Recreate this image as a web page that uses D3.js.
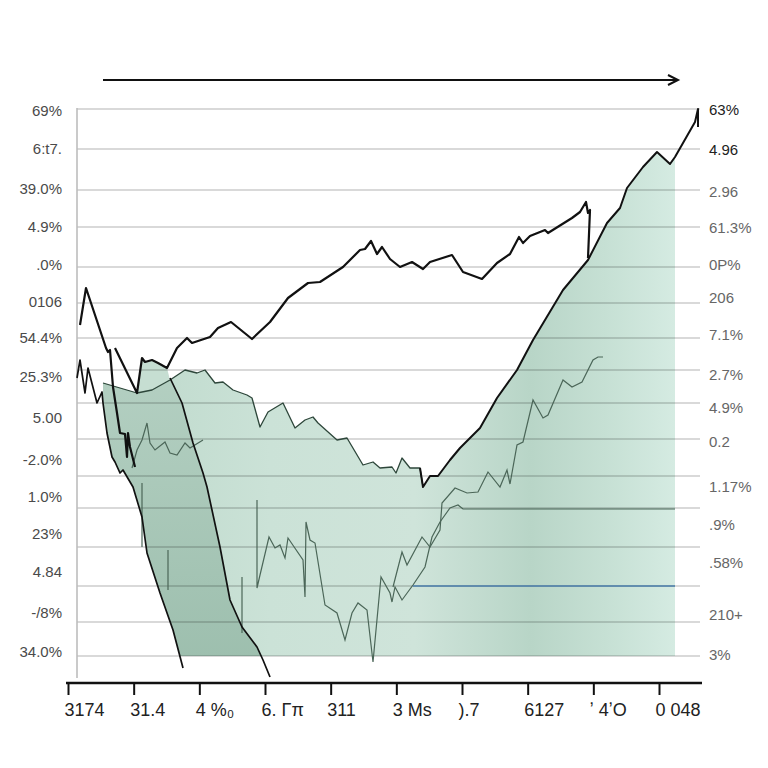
<!DOCTYPE html>
<html><head><meta charset="utf-8">
<script src="https://cdn.jsdelivr.net/npm/d3@7"></script>
<style>html,body{margin:0;padding:0;background:#fff;}svg{display:block;}</style>
</head><body>
<script>
// ---------- data (x units, y units) ----------
const bTop = [[26,273],[60,263],[75,266],[93,276],[108,286],[120,283],[128,286],[138,273],[146,274],[156,266],[170,261],[175,258],[183,229],[191,244],[206,253],[218,228],[228,236],[236,239],[241,233],[260,216],[270,218],[286,191],[296,194],[303,188],[315,189],[319,183],[325,198],[333,188],[343,188],[346,169],[353,180],[361,180],[373,196],[383,208],[403,228],[420,258],[440,286],[456,316],[486,366],[511,396],[530,433],[543,448],[550,468],[566,489],[580,504],[593,492],[598,499]];
const bTail = [[598,499],[618,534],[621,547],[621,529]];
const lineL1 = [[0,278],[3,296],[8,263],[11,288],[20,253],[25,264],[26,253],[30,223],[35,199],[38,194],[43,183],[46,186],[56,169],[65,139],[70,103],[83,63],[96,26],[106,-12]];
const lineL2 = [[93,278],[105,253],[116,213],[126,183],[130,169],[143,109],[153,56],[165,29],[180,9],[186,-4],[193,-21]];
const linePeak = [[3,331],[9,368],[29,308],[31,304],[33,306],[36,269],[40,243],[43,223],[48,222],[50,199],[51,223],[53,209],[58,189]];
const lineUpper = [[38,308],[60,263],[65,298],[68,294],[75,296],[81,293],[90,288],[100,308],[110,318],[115,313],[133,319],[141,328],[154,334],[175,317],[193,334],[211,358],[231,373],[243,374],[266,389],[283,406],[288,407],[294,415],[300,402],[305,409],[313,397],[323,389],[335,394],[346,387],[353,394],[375,401],[386,384],[405,377],[420,393],[433,402],[442,419],[446,413],[453,420],[468,426],[471,423],[495,438],[503,444],[509,454],[511,443],[513,446],[511,398]];
const thinT1 = [[55,188],[60,206],[65,216],[70,233],[73,213],[78,206],[88,214],[93,203],[100,201],[108,213],[113,208],[126,216]];
const spikes = [[65,173,109],[91,106,66],[165,79,23]];
const thinD = [[180,156],[180,68],[183,81],[192,119],[198,108],[203,111],[208,98],[211,118],[226,96],[228,59],[229,134],[233,116],[238,113],[248,51],[260,43],[268,16],[275,43],[281,53],[290,46],[296,-6],[304,79],[313,63],[315,54],[318,69],[325,56],[336,71],[348,89],[355,119],[363,134],[373,148],[381,151],[386,147],[598,147]];
const thinD2 = [[316,69],[325,104],[330,91],[345,119],[353,109],[363,126],[365,153],[378,168],[390,163],[401,164],[411,184],[423,169],[430,186],[433,172],[440,211],[446,214],[456,256],[466,238],[471,241],[486,276],[495,269],[505,274],[516,296],[521,299],[526,299]];
const blueLine = [[336,70],[598,70]];
const gridVals = [547,507,466,429,389,353,318,286,253,217,180,148,109,70,34,0];
const leftVals = [545,507,467,429,391,354,318,279,238,196,159,122,84,43,4];
const leftLabels = ["69%","6:t7.","39.0%","4.9%",".0%","0106","54.4%","25.3%","5.00","-2.0%","1.0%","23%","4.84","-/8%","34.0%"];
const rightVals = [546,506,464,428,391,358,321,281,248,214,169,131,93,41,1];
const rightLabels = ["63%","4.96","2.96","61.3%","0P%","206","7.1%","2.7%","4.9%","0.2","1.17%",".9%",".58%","210+","3%"];
const xLabels = ["3174","31.4","4 %₀","6. Γπ","311","3 Ms",").7","6127","ʼ 4ʼO","0 048"];
const arrowSpan = [26,601];
const arrowLevel = 576;

// ---------- scales ----------
const W = 768, H = 768;
const x = d3.scaleLinear().domain([0,625]).range([77,702]);
const y = d3.scaleLinear().domain([0,547]).range([656,109]);
const xb = d3.scalePoint().domain(xLabels).range([68,659]);

const svg = d3.select("body").append("svg").attr("width",W).attr("height",H);
const defs = svg.append("defs");
defs.append("clipPath").attr("id","clipFill").append("rect")
  .attr("x",0).attr("y",0).attr("width",W).attr("height",y(0));

const gB = defs.append("linearGradient").attr("id","gB").attr("gradientUnits","userSpaceOnUse")
  .attr("x1",x(20)).attr("x2",x(598)).attr("y1",0).attr("y2",0);
[[0,"#bcd8ca"],[0.3,"#cbe2d7"],[0.55,"#cfe4da"],[0.75,"#b8d5c7"],[0.88,"#c6e0d4"],[1,"#d5ebe2"]]
  .forEach(s=>gB.append("stop").attr("offset",s[0]).attr("stop-color",s[1]));
const gBand = defs.append("linearGradient").attr("id","gBand").attr("x1",0).attr("x2",0).attr("y1",0).attr("y2",1);
[[0,"#b3cfc1"],[1,"#9cbead"]].forEach(s=>gBand.append("stop").attr("offset",s[0]).attr("stop-color",s[1]));

const line = d3.line().x(d=>x(d[0])).y(d=>y(d[1]));

// ---------- fills ----------
const fills = svg.append("g").attr("clip-path","url(#clipFill)");
const l1From = lineL1.slice(6);
const bigPoly = bTop.concat([[598,0],[l1From[l1From.length-1][0],0]]).concat(l1From.slice().reverse());
fills.append("path").attr("d", line(bigPoly)+"Z").attr("fill","url(#gB)");
const bandPoly = bTop.slice(0,4).concat(lineL2).concat(l1From.slice().reverse());
fills.append("path").attr("d", line(bandPoly)+"Z").attr("fill","url(#gBand)");
const bumpPoly = lineUpper.slice(1,7).concat(bTop.slice(1,4).reverse());
fills.append("path").attr("d", line(bumpPoly)+"Z").attr("fill","#c6ded2");

// ---------- grid ----------
svg.append("g").selectAll("line").data(gridVals).join("line")
  .attr("x1",x(0)).attr("x2",x(623)).attr("y1",d=>y(d)).attr("y2",d=>y(d))
  .attr("stroke","rgba(0,0,0,0.2)").attr("stroke-width",1.3);
svg.append("line").attr("x1",x(0)).attr("x2",x(0)).attr("y1",y(548)).attr("y2",y(-22))
  .attr("stroke","#bdbdbd").attr("stroke-width",1.6);

// ---------- thin lines ----------
const thin = svg.append("g").attr("fill","none").attr("stroke","#4b6658").attr("stroke-width",1.2);
thin.append("path").attr("d",line(thinT1));
thin.append("path").attr("d",line(thinD));
thin.append("path").attr("d",line(thinD2));
thin.selectAll("line").data(spikes).join("line")
  .attr("x1",d=>x(d[0])).attr("x2",d=>x(d[0])).attr("y1",d=>y(d[1])).attr("y2",d=>y(d[2]));
svg.append("path").attr("d",line(blueLine)).attr("stroke","#4a7cab").attr("stroke-width",1.6).attr("fill","none");

// ---------- black lines ----------
const blk = svg.append("g").attr("fill","none").attr("stroke","#111").attr("stroke-linejoin","round");
blk.append("path").attr("d",line(bTop.filter(d=>d[0]<=346))).attr("stroke","#2d463a").attr("stroke-width",1.3);
blk.append("path").attr("d",line(bTop.filter(d=>d[0]>=343).concat(bTail.slice(1)))).attr("stroke-width",2);
blk.append("path").attr("d",line(lineL1)).attr("stroke-width",1.7);
blk.append("path").attr("d",line(lineL2)).attr("stroke-width",1.7);
blk.append("path").attr("d",line(linePeak)).attr("stroke-width",2.2);
blk.append("path").attr("d",line(lineUpper)).attr("stroke-width",2.2);

// ---------- top arrow ----------
const ay = y(arrowLevel);
svg.append("line").attr("x1",x(arrowSpan[0])).attr("x2",x(arrowSpan[1])).attr("y1",ay).attr("y2",ay)
  .attr("stroke","#111").attr("stroke-width",2);
svg.append("path").attr("d",`M${x(arrowSpan[1])-10},${ay-5}L${x(arrowSpan[1])},${ay}L${x(arrowSpan[1])-10},${ay+5}`)
  .attr("fill","none").attr("stroke","#111").attr("stroke-width",2);

// ---------- axes ----------
const la = svg.append("g").attr("transform","translate(62,0)")
  .call(d3.axisLeft(y).tickValues(leftVals).tickSize(0).tickPadding(0).tickFormat((d,i)=>leftLabels[i]));
la.select(".domain").remove();
la.selectAll("text").attr("font-family","Liberation Sans, Arial, sans-serif").attr("font-size",15).attr("fill","#4a4a4a");

const ra = svg.append("g").attr("transform","translate(709,0)")
  .call(d3.axisRight(y).tickValues(rightVals).tickSize(0).tickPadding(0).tickFormat((d,i)=>rightLabels[i]));
ra.select(".domain").remove();
ra.selectAll("text").attr("font-family","Liberation Sans, Arial, sans-serif").attr("font-size",15)
  .attr("fill",(d,i)=>i<2?"#222":"#666");

const ba = svg.append("g").attr("transform","translate(0,683)")
  .call(d3.axisBottom(xb).tickSize(12).tickPadding(8));
ba.select(".domain").attr("d","M66,0H702").attr("stroke","#111").attr("stroke-width",2.4);
ba.selectAll(".tick line").attr("stroke","#111").attr("stroke-width",2);
ba.selectAll("text").attr("font-family","Liberation Sans, Arial, sans-serif").attr("font-size",18)
  .attr("fill","#222").attr("text-anchor","start").attr("dx",-4);
</script>
</body></html>
